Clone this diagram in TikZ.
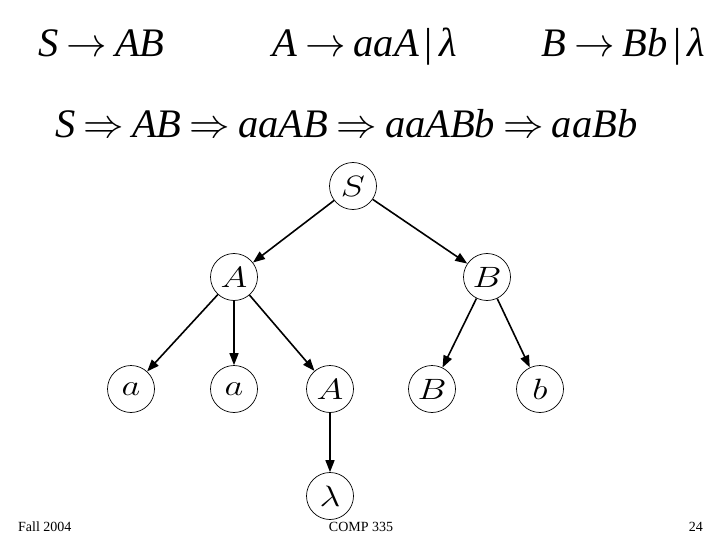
\RequirePackage{fix-cm}
\documentclass[tikz,border=0pt]{standalone}
\usepackage{fontspec}
\setmainfont{Liberation Serif}
\usetikzlibrary{arrows.meta}
\newcommand{\myra}{\hspace{0.2em}$\rightarrow$\hspace{0.2em}}
\newcommand{\myRa}{\hspace{0.2em}$\Rightarrow$\hspace{0.2em}}
\newcommand{\mybar}{\hspace{0.15em}{\upshape|}\hspace{0.15em}}
\newcommand{\lbl}[1]{\scalebox{1.3}[1.05]{$#1$}}
\begin{document}
\begin{tikzpicture}[x=1pt,y=-1pt,
  tnode/.style={circle,draw,line width=0.7pt,minimum size=47pt,inner sep=0pt,font=\fontsize{28}{32}\selectfont},
  edge/.style={line width=1.6pt,-{Triangle[length=12pt,width=9pt]}},
  big/.style={font=\fontsize{40.5}{44}\selectfont\itshape,inner sep=0pt,anchor=base west},
  foot/.style={font=\fontsize{14}{16}\selectfont,inner sep=0pt,anchor=base}]
\useasboundingbox (0,0) rectangle (720,540);
\node[big] (p1) at (38,57) {S\myra AB};
\node[big] (p2) at (272,57) {A\myra aaA\mybar λ};
\node[big] (p3) at (541,57) {B\myra Bb\mybar λ};
\node[big] (d) at (55,138) {S\myRa AB\myRa aaAB\myRa aaABb\myRa aaBb};

\node[tnode] (S) at (353,186) {\lbl{S}};
\node[tnode] (A) at (234,277) {\lbl{A}};
\node[tnode] (B) at (487,277) {\lbl{B}};
\node[tnode] (a1) at (131,389) {\lbl{a}};
\node[tnode] (a2) at (234,389) {\lbl{a}};
\node[tnode] (A2) at (330,389) {\lbl{A}};
\node[tnode] (B2) at (432,389) {\lbl{B}};
\node[tnode] (b) at (540,389) {\lbl{b}};
\node[tnode] (l) at (330,496) {\lbl{\lambda}};

\draw[edge] (S) -- (A);
\draw[edge] (S) -- (B);
\draw[edge] (A) -- (a1);
\draw[edge] (A) -- (a2);
\draw[edge] (A) -- (A2);
\draw[edge] (B) -- (B2);
\draw[edge] (B) -- (b);
\draw[edge] (A2) -- (l);

\node[foot,anchor=base west] (f1) at (18,531) {Fall 2004};
\node[foot] (f2) at (361,531) {COMP 335};
\node[foot,anchor=base east] (f3) at (703,531) {24};
\end{tikzpicture}
\end{document}
